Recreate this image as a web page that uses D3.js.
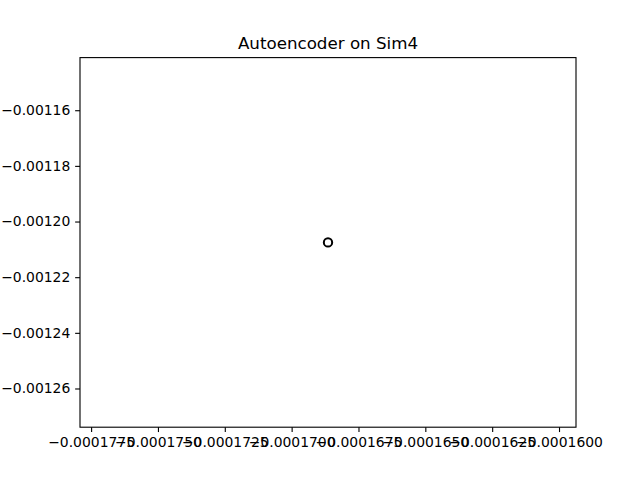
<!DOCTYPE html>
<html>
<head>
<meta charset="utf-8">
<script src="https://cdn.jsdelivr.net/npm/d3@7"></script>
<style>
  body { margin: 0; background: #fff; }
  svg { display: block; font-family: "DejaVu Sans", sans-serif; }
</style>
</head>
<body>
<div id="vis"></div>
<script>
// the scatter: every point sits on top of the others
var xValues = [-0.00016864];
var yValues = [-0.0012075];

var xTicks = [-0.0001775, -0.000175, -0.0001725, -0.00017, -0.0001675, -0.000165, -0.0001625, -0.00016];
var yTicks = [-0.00116, -0.00118, -0.0012, -0.00122, -0.00124, -0.00126];

var chartTitle = "Autoencoder on Sim4";

var w = 640, h = 480;
var mLeft = 80, mRight = 576, mTop = 57.6, mBottom = 427.2;

var svg = d3.select("#vis").append("svg")
  .attr("width", w)
  .attr("height", h);

// matplotlib with a single point: expand 5% of the value, then 5% margin
function singleDomain(vals) {
  var c = d3.mean(vals);
  var half = Math.abs(c) * 0.05 * 1.1;
  return [c - half, c + half];
}

var x = d3.scaleLinear().domain(singleDomain(xValues)).range([mLeft, mRight]);
var y = d3.scaleLinear().domain(singleDomain(yValues)).range([mBottom, mTop]);

function fmt(d, p) {
  return d3.format("." + p + "f")(d).replace("-", "\u2212");
}

var xAxis = d3.axisBottom(x)
  .tickValues(xTicks)
  .tickSize(4.86)
  .tickPadding(4.86)
  .tickFormat(function(d){ return fmt(d, 7); });

var yAxis = d3.axisLeft(y)
  .tickValues(yTicks)
  .tickSize(4.86)
  .tickPadding(4.86)
  .tickFormat(function(d){ return fmt(d, 5); });

var gx = svg.append("g")
  .attr("transform", "translate(0," + mBottom + ")")
  .call(xAxis);

var gy = svg.append("g")
  .attr("transform", "translate(" + mLeft + ",0)")
  .call(yAxis);

[gx, gy].forEach(function(g){
  g.select(".domain").remove();
  g.selectAll(".tick line").attr("stroke", "#000").attr("stroke-width", 1.11);
  g.selectAll(".tick text")
    .attr("fill", "#000")
    .style("font-size", "13.9px")
    .style("font-family", "'DejaVu Sans', sans-serif");
});
gx.selectAll(".tick text").attr("dy", "0.72em");

// frame
svg.append("rect")
  .attr("x", mLeft)
  .attr("y", mTop)
  .attr("width", mRight - mLeft)
  .attr("height", mBottom - mTop)
  .attr("fill", "none")
  .attr("stroke", "#000")
  .attr("stroke-width", 1.11);

svg.selectAll("circle")
  .data(xValues)
  .enter()
  .append("circle")
  .attr("cx", function(d){ return x(d); })
  .attr("cy", function(d, i){ return y(yValues[i]); })
  .attr("r", 4.17)
  .attr("fill", "none")
  .attr("stroke", "#000")
  .attr("stroke-width", 2);

svg.append("text")
  .attr("x", (mLeft + mRight) / 2)
  .attr("y", mTop - 8.3)
  .attr("text-anchor", "middle")
  .style("font-size", "16.7px")
  .text(chartTitle);
</script>
</body>
</html>
